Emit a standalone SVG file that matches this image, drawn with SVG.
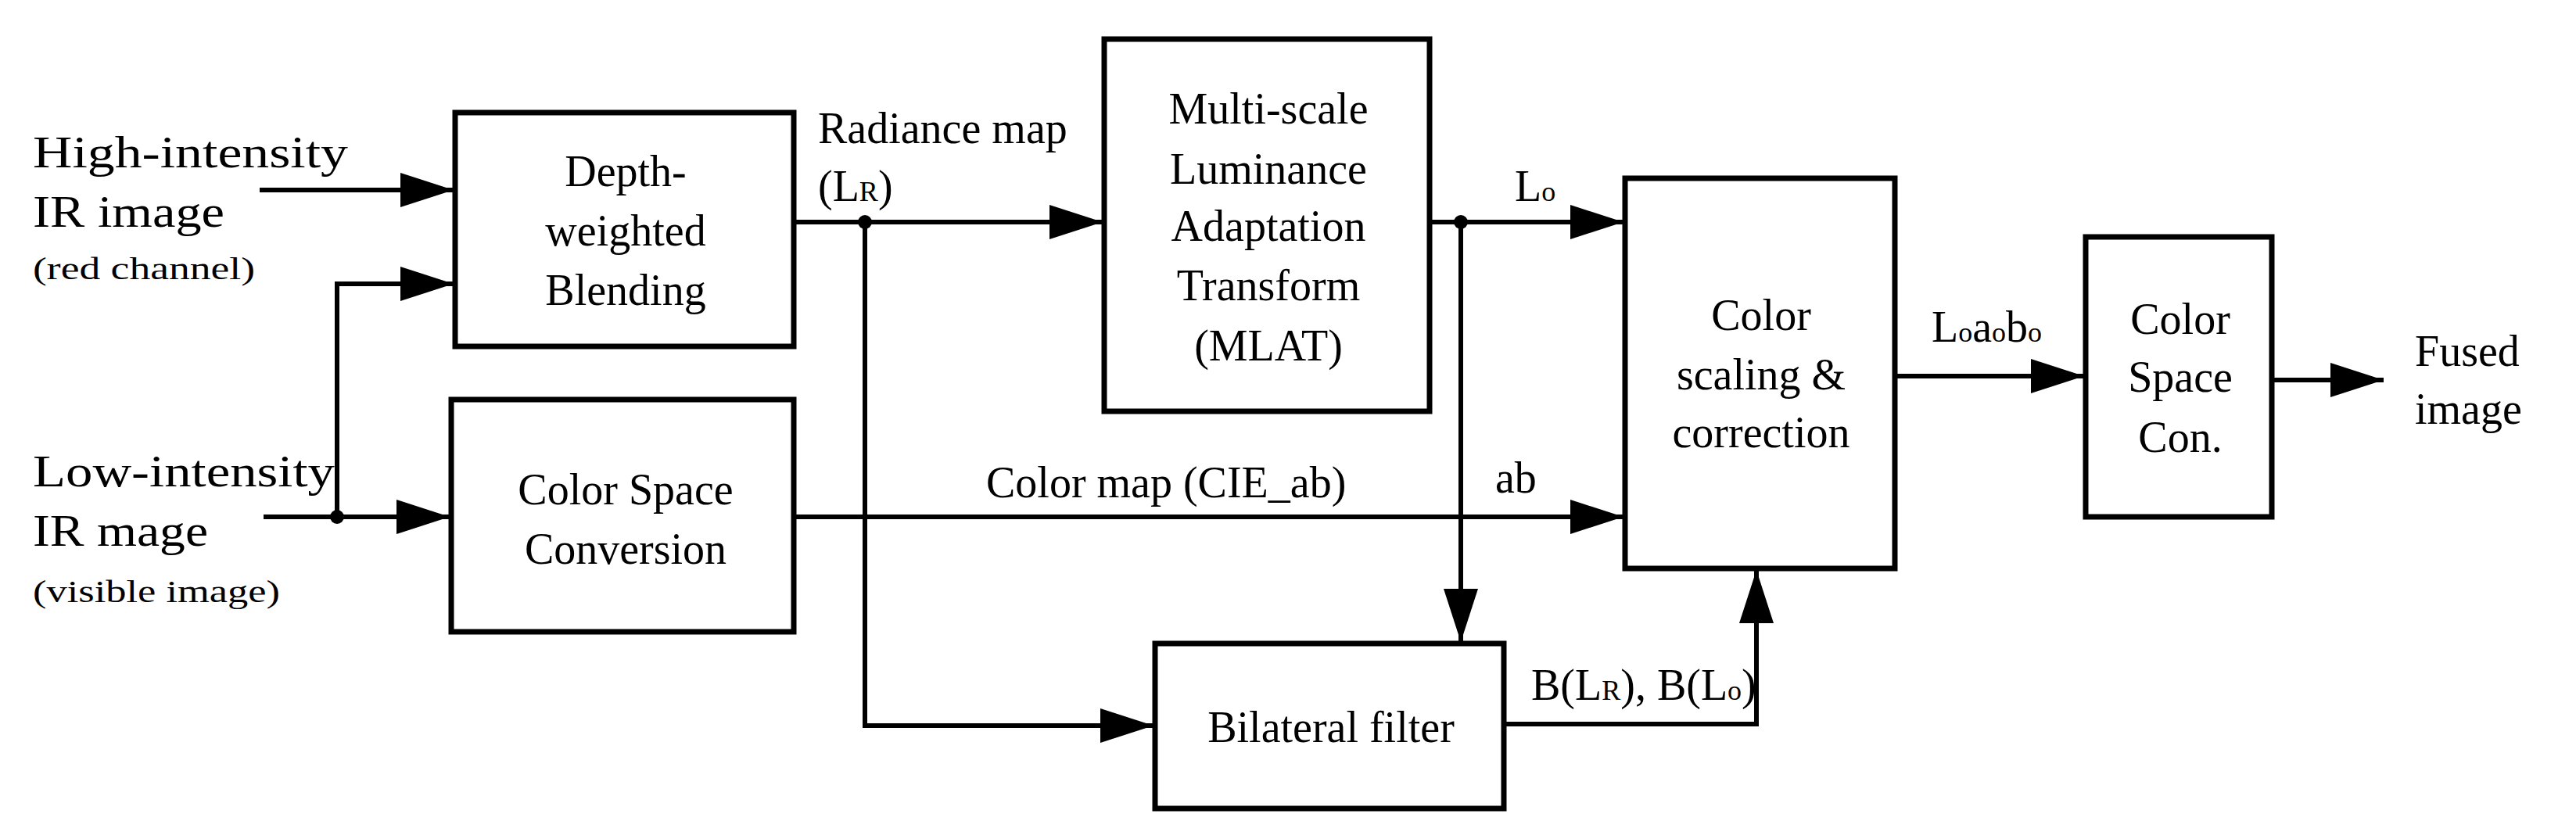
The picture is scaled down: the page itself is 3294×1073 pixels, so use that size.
<svg xmlns="http://www.w3.org/2000/svg" width="3294" height="1073" viewBox="0 0 3294 1073">
<style>
text{font-family:"Liberation Serif","DejaVu Serif",serif;font-size:56px;fill:#000}
.s{font-size:40px}
.c{text-anchor:middle}
rect{fill:#fff;stroke:#000;stroke-width:7}
.w path,.w polyline,.w line{fill:none;stroke:#000;stroke-width:6}
.sub{font-size:36px}
</style>
<defs>
<marker id="a" markerUnits="userSpaceOnUse" markerWidth="70" markerHeight="46" refX="68" refY="22" orient="auto"><path d="M0,0 L68,22 L0,44 z" fill="#000"/></marker>
</defs>
<g id="connectors" class="w">
<line x1="332" y1="243" x2="580" y2="243" marker-end="url(#a)"/>
<polyline points="431,661 431,363 580,363" marker-end="url(#a)"/>
<line x1="337" y1="661" x2="575" y2="661" marker-end="url(#a)"/>
<line x1="1015" y1="284" x2="1410" y2="284" marker-end="url(#a)"/>
<polyline points="1106,284 1106,928 1475,928" marker-end="url(#a)"/>
<line x1="1828" y1="284" x2="2076" y2="284" marker-end="url(#a)"/>
<line x1="1868" y1="284" x2="1868" y2="821" marker-end="url(#a)"/>
<line x1="1015" y1="661" x2="2076" y2="661" marker-end="url(#a)"/>
<polyline points="1923,926 2246,926 2246,729" marker-end="url(#a)"/>
<line x1="2423" y1="481" x2="2665" y2="481" marker-end="url(#a)"/>
<line x1="2905" y1="486" x2="3048" y2="486" marker-end="url(#a)"/>
<circle cx="431" cy="661" r="9"/>
<circle cx="1106" cy="284" r="9"/>
<circle cx="1868" cy="284" r="9"/>
</g>
<g id="inputs">
<text x="42" y="214" textLength="403" lengthAdjust="spacingAndGlyphs">High-intensity</text>
<text x="42" y="290" textLength="245" lengthAdjust="spacingAndGlyphs">IR image</text>
<text class="s" x="42" y="357" textLength="284" lengthAdjust="spacingAndGlyphs">(red channel)</text>
<text x="42" y="622" textLength="386" lengthAdjust="spacingAndGlyphs">Low-intensity</text>
<text x="42" y="698" textLength="224" lengthAdjust="spacingAndGlyphs">IR mage</text>
<text class="s" x="42" y="770" textLength="316" lengthAdjust="spacingAndGlyphs">(visible image)</text>
</g>
<g id="depth">
<rect x="582" y="144" width="433" height="299"/>
<text class="c" x="800" y="238">Depth-</text>
<text class="c" x="800" y="314">weighted</text>
<text class="c" x="800" y="390">Blending</text>
</g>
<g id="csc1">
<rect x="577" y="511" width="438" height="297"/>
<text class="c" x="800" y="645">Color Space</text>
<text class="c" x="800" y="721">Conversion</text>
</g>
<g id="mlat">
<rect x="1412" y="50" width="416" height="476"/>
<text class="c" x="1622" y="158">Multi-scale</text>
<text class="c" x="1622" y="235">Luminance</text>
<text class="c" x="1622" y="308">Adaptation</text>
<text class="c" x="1622" y="384">Transform</text>
<text class="c" x="1622" y="461">(MLAT)</text>
</g>
<g id="bilateral">
<rect x="1477" y="823" width="446" height="211"/>
<text class="c" x="1702" y="949">Bilateral filter</text>
</g>
<g id="colorscaling">
<rect x="2078" y="228" width="345" height="499"/>
<text class="c" x="2252" y="422">Color</text>
<text class="c" x="2252" y="498">scaling &amp;</text>
<text class="c" x="2252" y="572">correction</text>
</g>
<g id="csc2">
<rect x="2667" y="303" width="238" height="358"/>
<text class="c" x="2788" y="427">Color</text>
<text class="c" x="2788" y="501">Space</text>
<text class="c" x="2788" y="578">Con.</text>
</g>
<g id="labels">
<text x="1046" y="183">Radiance map</text>
<text x="1046" y="257">(L<tspan class="sub">R</tspan>)</text>
<text x="1937" y="257">L<tspan class="sub">o</tspan></text>
<text x="1261" y="636">Color map (CIE_ab)</text>
<text x="1912" y="630">ab</text>
<text x="1958" y="895">B(L<tspan class="sub">R</tspan>), B(L<tspan class="sub">o</tspan>)</text>
<text x="2470" y="437">L<tspan class="sub">o</tspan>a<tspan class="sub">o</tspan>b<tspan class="sub">o</tspan></text>
<text x="3088" y="468">Fused</text>
<text x="3088" y="542">image</text>
</g>
</svg>
